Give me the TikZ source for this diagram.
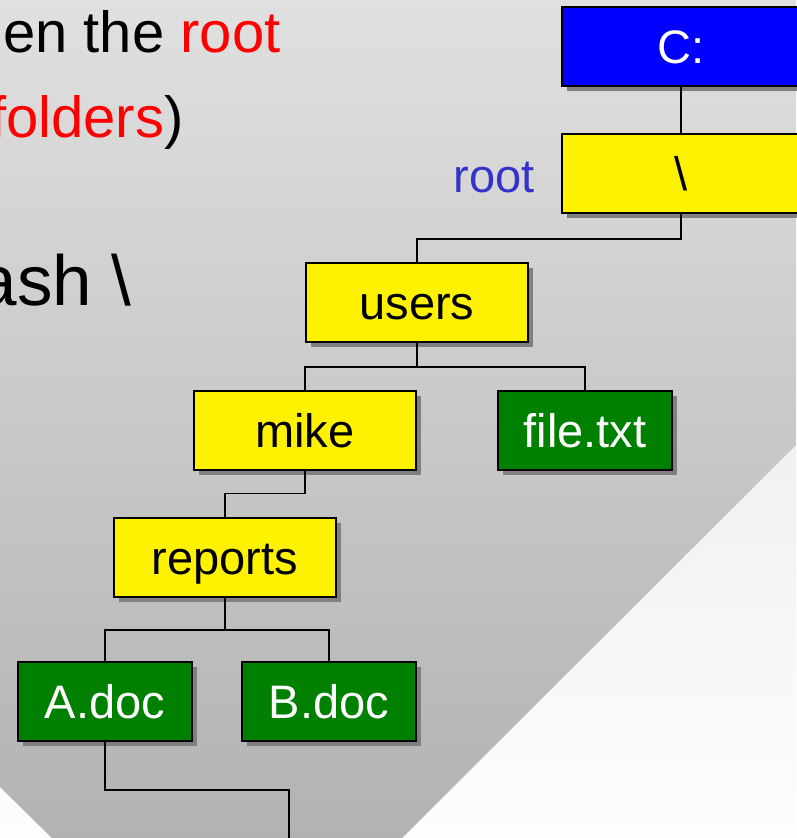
\documentclass[tikz,border=0pt]{standalone}
\usepackage{fontspec}
\setmainfont{Liberation Sans}
\usetikzlibrary{shadows}
\definecolor{pagetop}{RGB}{226,226,226}
\definecolor{pagebot}{RGB}{253,253,253}
\definecolor{slatetop}{RGB}{224,224,224}
\definecolor{slatebot}{RGB}{178,178,178}
\definecolor{shadowgray}{RGB}{128,128,128}
\definecolor{docgreen}{RGB}{0,128,0}
\definecolor{rootblue}{RGB}{51,51,204}

\begin{document}
\begin{tikzpicture}[x=1pt,y=-1pt,
  box/.style={draw,line width=2pt,minimum height=79pt,inner sep=0pt,
    font=\fontsize{47}{50}\selectfont,text height=34pt,text depth=0pt,
    drop shadow={shadow xshift=5pt,shadow yshift=-5pt,fill=shadowgray,opacity=1}},
  dir/.style={box,fill=yellow,minimum width=222pt},
  doc/.style={box,fill=docgreen,text=white,minimum width=174pt},
  link/.style={line width=1.5pt}]
\useasboundingbox (0,0) rectangle (796,838);
% background
\shade[top color=pagetop,bottom color=pagebot] (0,0) rectangle (796,838);
\shade[top color=slatetop,bottom color=slatebot]
  (0,0) -- (796,0) -- (796,445) -- (402,838) -- (52,838) -- (0,787) -- cycle;
% slide text
\node[anchor=base east,font=\fontsize{58}{62}\selectfont] (line1) at (284,52) {en the \textcolor{red}{root}};
\node[anchor=base east,font=\fontsize{58}{62}\selectfont] (line2) at (187,137) {\textcolor{red}{folders})};
\node[anchor=base east,font=\fontsize{71}{76}\selectfont] (line3) at (135,305) {ash \textbackslash};
% tree
\node[box,fill=blue,text=white,minimum width=238pt] (drive) at (681,46.5) {C:};
\node[dir,minimum width=238pt] (root) at (681,173.5) {\textbackslash};
\node[anchor=base east,text=rootblue,font=\fontsize{47}{50}\selectfont] (rootlbl) at (538,192) {root};
\node[dir] (users) at (417,302.5) {users};
\node[dir] (mike) at (305,430) {mike};
\node[doc] (file) at (585,430.5) {file.txt};
\node[dir] (reports) at (225,557.5) {reports};
\node[doc] (adoc) at (105,701.5) {A.doc};
\node[doc] (bdoc) at (329,701.5) {B.doc};
\coordinate (more) at (289,850);
\draw[link] (drive.south) -- (root.north);
\draw[link] (root.south) -- ++(0,25) -| (users.north);
\draw[link] (users.south) -- ++(0,24) -| (mike.north);
\draw[link] (users.south) ++(0,24) -| (file.north);
\draw[link] (mike.south) -- ++(0,23) -| (reports.north);
\draw[link] (reports.south) -- ++(0,32) -| (adoc.north);
\draw[link] (reports.south) ++(0,32) -| (bdoc.north);
\draw[link] (adoc.south) -- ++(0,48) -| (more);
\end{tikzpicture}
\end{document}
